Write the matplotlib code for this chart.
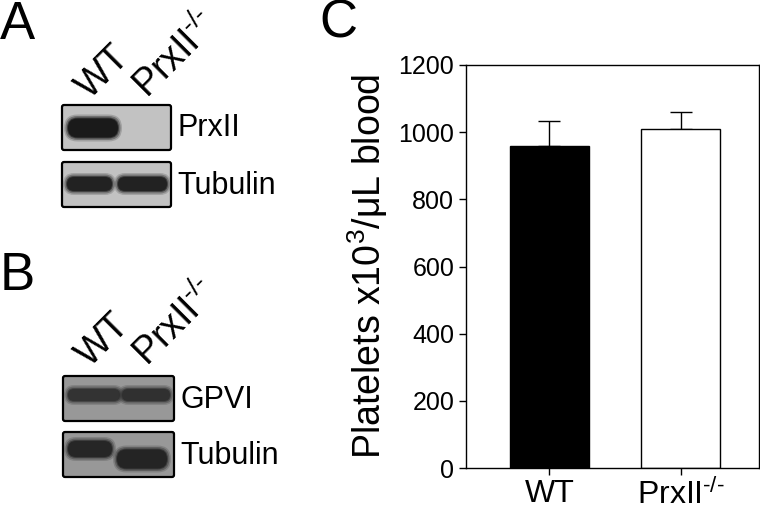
import matplotlib

matplotlib.use("Agg")
import matplotlib.pyplot as plt
from matplotlib.patches import FancyBboxPatch

plt.rcParams["font.family"] = ["Liberation Sans", "DejaVu Sans"]
plt.rcParams["mathtext.fontset"] = "custom"
plt.rcParams["mathtext.rm"] = "Liberation Sans"
plt.rcParams["mathtext.it"] = "Liberation Sans"

# ----------------------------------------------------------------------------
# Dados
# ----------------------------------------------------------------------------
genotipos = ["WT", "PrxII$^{\\mathregular{\u2010/\u2010}}$"]
plaquetas_media = [960, 1010]
plaquetas_erro = [72, 50]
y_ticks = [0, 200, 400, 600, 800, 1000, 1200]

# intensidade relativa das bandas (0 = sem banda, 1 = saturada), por pista
banda_prx2 = [1.0, 0.0]
banda_tub_a = [0.95, 0.95]
banda_gpvi = [0.8, 0.82]
banda_tub_b = [0.9, 0.92]

# ----------------------------------------------------------------------------
# Layout (pixels da figura, origem no topo)
# ----------------------------------------------------------------------------
W, H = 760, 511
BLOTS = [
    # caixa (x, y, w, h), fundo, bandas [(xc, yc, w, h)], intensidades, rótulo
    ((62, 105, 109, 45), "#c2c2c2", [(93, 128, 50, 19), (142, 128, 48, 19)], banda_prx2, "PrxII"),
    ((62, 162, 109, 45), "#c2c2c2", [(89.5, 184, 45, 14), (142.5, 184, 49, 14)], banda_tub_a, "Tubulin"),
    ((63, 376, 111, 45), "#989898", [(94, 395, 52, 12), (146, 395, 48, 12)], banda_gpvi, "GPVI"),
    ((63, 432, 111, 45), "#989898", [(90, 449, 44, 16), (142, 459, 50, 19)], banda_tub_b, "Tubulin"),
]


def cinza(fundo, intensidade, escuro=0.1):
    r = int(fundo[1:3], 16) / 255
    v = r * (1 - intensidade) + escuro * intensidade
    return (v, v, v)


fig = plt.figure(figsize=(W / 100, H / 100), dpi=100)
fig.patch.set_facecolor("white")

# painéis A e B: blots desenhados num eixo em coordenadas de pixel
ov = fig.add_axes([0, 0, 1, 1])
ov.set_xlim(0, W)
ov.set_ylim(H, 0)
ov.axis("off")

for (bx, by, bw, bh), fundo, bandas, intens, rotulo in BLOTS:
    ov.add_patch(FancyBboxPatch((bx, by), bw, bh, boxstyle="round,pad=0,rounding_size=2",
                                facecolor=fundo, edgecolor="black", linewidth=1.6))
    for (xc, yc, bw_, bh_), it in zip(bandas, intens):
        if it <= 0:
            continue
        # camadas para suavizar a borda da banda
        for dw, a in ((4, 0.2), (2.5, 0.35), (1, 0.6), (0, 1.0)):
            w_ = bw_ + 2 * dw
            h_ = bh_ + 2 * dw
            ov.add_patch(FancyBboxPatch((xc - w_ / 2, yc - h_ / 2), w_, h_,
                                        boxstyle=f"round,pad=0,rounding_size={h_ / 2}",
                                        facecolor=cinza(fundo, it), edgecolor="none", alpha=a))
    ov.text(bx + bw + 6, by + bh / 2 + 1, rotulo, fontsize=22, ha="left", va="center")

# rótulos das pistas, inclinados
for y_base in (100, 368):
    ov.text(90, y_base, "WT", fontsize=27, rotation=45, rotation_mode="anchor",
            ha="left", va="baseline")
    ov.text(148, y_base, genotipos[1], fontsize=27, rotation=45, rotation_mode="anchor",
            ha="left", va="baseline")

# letras dos painéis
for x, y, letra in ((0, 39, "A"), (0, 290, "B"), (319, 38, "C")):
    ov.text(x, y, letra, fontsize=38, ha="left", va="baseline")

# ----------------------------------------------------------------------------
# Painel C: barras
# ----------------------------------------------------------------------------
ax = fig.add_axes([466 / W, 1 - 468 / H, 293 / W, 403 / H])
x = range(len(genotipos))
ax.bar(x, plaquetas_media, width=0.6, color=["black", "white"], edgecolor="black",
       linewidth=1.0, zorder=2)
ax.errorbar(x, plaquetas_media, yerr=[[0, 0], plaquetas_erro], fmt="none",
            ecolor="black", elinewidth=1.0, capsize=8, capthick=1.0, zorder=1)
ax.set_xlim(-0.635, 1.595)
ax.set_ylim(0, 1200)
ax.set_yticks(y_ticks)
ax.set_xticks(list(x))
ax.set_xticklabels(genotipos)
ax.tick_params(axis="y", labelsize=18, direction="out", length=5, width=1)
ax.tick_params(axis="x", labelsize=23, direction="out", length=5, width=1, pad=3)
for s in ax.spines.values():
    s.set_linewidth(1.0)
ax.set_ylabel("Platelets x10$^{\\mathregular{3}}$/μL blood", fontsize=27, labelpad=6)

fig.savefig("out.png", dpi=100, facecolor="white")
